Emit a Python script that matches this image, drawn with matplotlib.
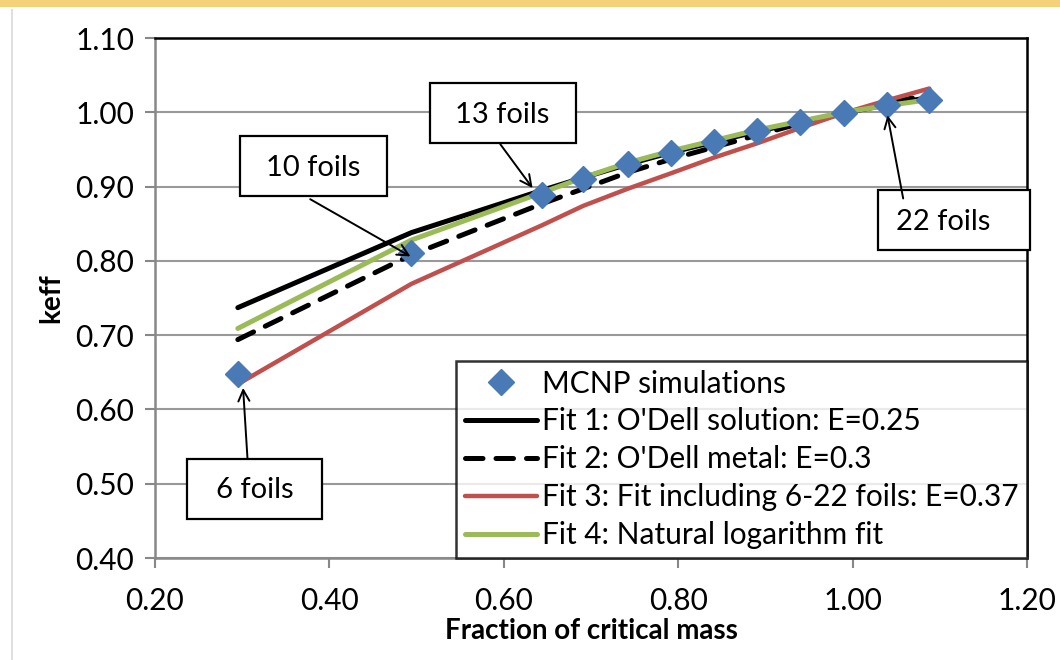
import matplotlib
matplotlib.use("Agg")
import matplotlib.pyplot as plt
from matplotlib.patches import Rectangle
from matplotlib.lines import Line2D

plt.rcParams['font.family'] = ['Lato', 'DejaVu Sans']

# ---- data ----
frac = [0.295, 0.494, 0.644, 0.691, 0.742, 0.792, 0.841, 0.890, 0.940, 0.990, 1.039, 1.088]
mcnp = [0.648, 0.811, 0.888, 0.910, 0.931, 0.945, 0.960, 0.975, 0.987, 0.999, 1.010, 1.017]
fit1 = [0.737, 0.838, 0.895, 0.912, 0.930, 0.946, 0.960, 0.974, 0.987, 0.999, 1.010, 1.020]
fit2 = [0.694, 0.808, 0.877, 0.897, 0.919, 0.937, 0.953, 0.969, 0.985, 0.999, 1.012, 1.024]
fit3 = [0.634, 0.769, 0.848, 0.874, 0.897, 0.918, 0.939, 0.958, 0.979, 0.999, 1.016, 1.032]
fit4 = [0.709, 0.828, 0.892, 0.912, 0.932, 0.948, 0.962, 0.976, 0.988, 1.000, 1.009, 1.017]

labels = ["MCNP simulations",
          "Fit 1: O'Dell solution: E=0.25",
          "Fit 2: O'Dell metal: E=0.3",
          "Fit 3: Fit including 6-22 foils: E=0.37",
          "Fit 4: Natural logarithm fit"]

xticks = [0.20, 0.40, 0.60, 0.80, 1.00, 1.20]
yticks = [0.40, 0.50, 0.60, 0.70, 0.80, 0.90, 1.00, 1.10]

annot_text = ["6 foils", "10 foils", "13 foils", "22 foils"]
annot_target = [(0.301, 0.629), (0.493, 0.806), (0.633, 0.898), (1.040, 0.996)]

# ---- figure ----
fig = plt.figure(figsize=(10.6, 6.6), dpi=100)
ax = fig.add_axes([155/1060, 1 - 558/660, (1027-155)/1060, (558-38)/660])

# slide decoration
fig.patches.append(Rectangle((0, 1 - 7/660), 1, 7/660, transform=fig.transFigure,
                             facecolor='#f5d27a', edgecolor='none', zorder=0))
fig.lines.append(Line2D([12/1060, 12/1060], [0, 1 - 10/660], transform=fig.transFigure,
                        color='#e0e0e0', lw=1.5))

l1, = ax.plot(frac, fit1, color='black', lw=3.6, solid_capstyle='round', zorder=3)
l2, = ax.plot(frac, fit2, color='black', lw=3.6, dashes=(3.5, 2.6),
              dash_capstyle='round', zorder=3)
l3, = ax.plot(frac, fit3, color='#c0504d', lw=3.2, solid_capstyle='round', zorder=3)
l4, = ax.plot(frac, fit4, color='#9bbb59', lw=3.6, solid_capstyle='round', zorder=4)
m, = ax.plot(frac, mcnp, linestyle='none', marker='D', markersize=13.5,
             color='#4a7ab5', markeredgecolor='#4a7ab5', zorder=5)

ax.set_xlim(0.2, 1.2)
ax.set_ylim(0.4, 1.1)
ax.set_xticks(xticks)
ax.set_yticks(yticks)
ax.set_xticklabels([f"{v:.2f}" for v in xticks])
ax.set_yticklabels([f"{v:.2f}" for v in yticks])
ax.tick_params(axis='both', labelsize=21.5, length=7, width=1.5, color='#888888',
               direction='out', pad=8)
ax.tick_params(axis='x', pad=14)
ax.yaxis.grid(True, color='#999999', lw=1.5)
ax.set_axisbelow(True)
for s in ['left', 'bottom']:
    ax.spines[s].set_color('#888888')
    ax.spines[s].set_linewidth(1.8)
for s in ['top', 'right']:
    ax.spines[s].set_color('black')
    ax.spines[s].set_linewidth(1.8)

ax.set_xlabel("Fraction of critical mass", fontsize=20, fontweight='bold', labelpad=2)
ax.set_ylabel("keff", fontsize=20, fontweight='bold', labelpad=8)

# annotation boxes (layout)
boxes = [(0.237, 0.452, 0.155, 0.081), (0.298, 0.887, 0.168, 0.081),
         (0.515, 0.958, 0.168, 0.081), (1.029, 0.814, 0.175, 0.081)]
text_pos = [(0.314, 0.491), (0.381, 0.925), (0.598, 0.997), (1.104, 0.852)]
arrow_start = [(0.306, 0.535), (0.378, 0.883), (0.596, 0.957), (1.058, 0.884)]
for txt, (bx, by, bw, bh), tp, st, tg in zip(annot_text, boxes, text_pos, arrow_start, annot_target):
    ax.add_patch(Rectangle((bx, by), bw, bh, facecolor='white', edgecolor='black',
                           lw=1.6, zorder=7, clip_on=False))
    ax.text(tp[0], tp[1], txt, fontsize=21, ha='center', va='center', zorder=8)
    ax.annotate("", xy=tg, xytext=st,
                arrowprops=dict(arrowstyle='->,head_length=0.8,head_width=0.4',
                                color='black', lw=1.4, shrinkA=0, shrinkB=0), zorder=9)

leg = ax.legend([m, l1, l2, l3, l4], labels, loc='lower right', bbox_to_anchor=(1.0, 0.0),
                borderaxespad=0, fontsize=21.5, frameon=True, fancybox=False,
                handlelength=2.4, handletextpad=0.15, labelspacing=0.33,
                borderpad=0.3, markerscale=1.0)
leg.get_frame().set_edgecolor('black')
leg.get_frame().set_linewidth(1.8)
leg.set_zorder(10)

fig.savefig("out.png", dpi=100)
